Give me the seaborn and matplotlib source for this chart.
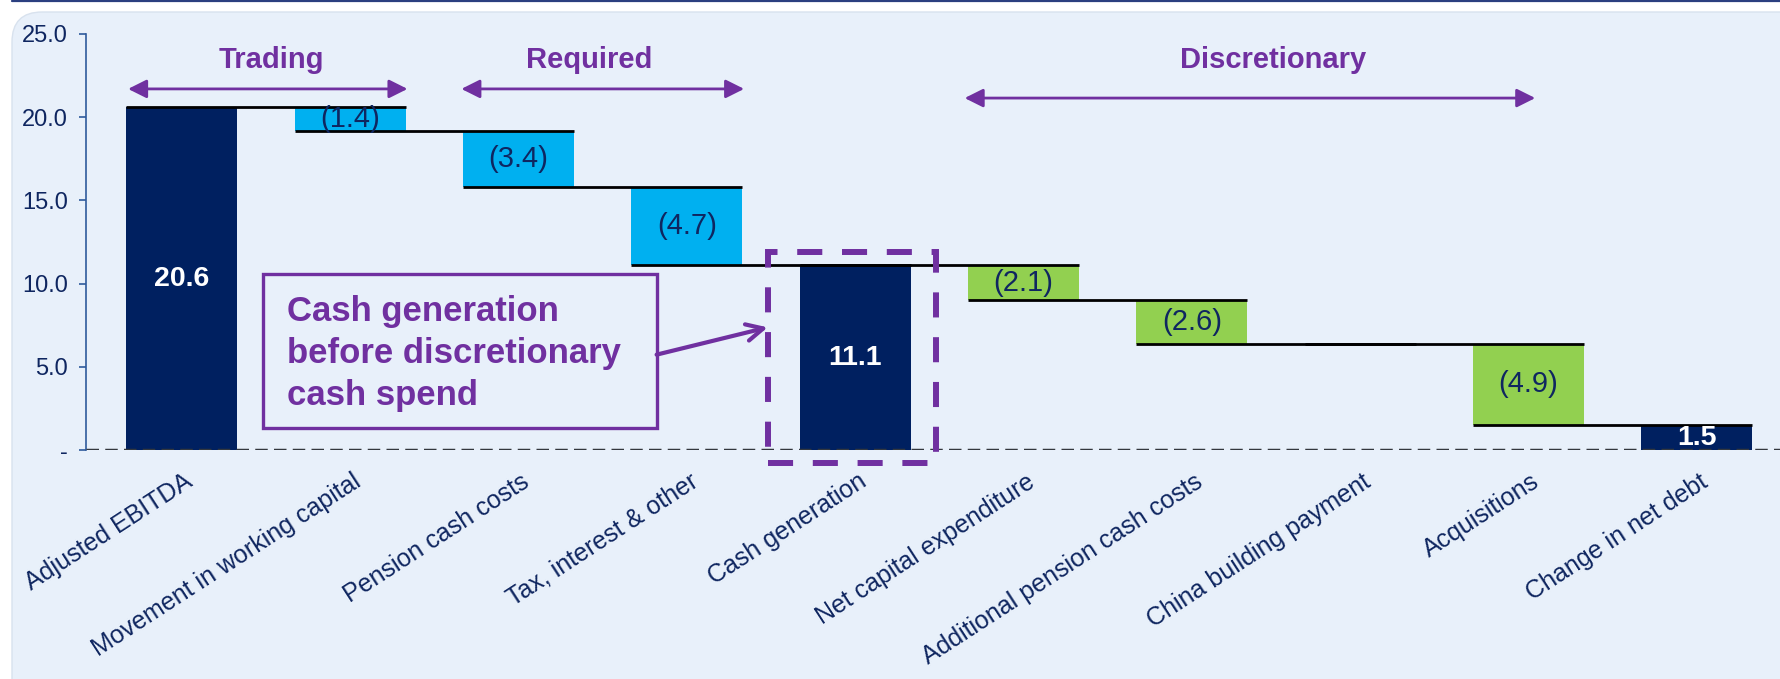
import matplotlib
matplotlib.use("Agg")
import matplotlib.pyplot as plt
import seaborn as sns
import numpy as np
import pandas as pd
from matplotlib.patches import FancyBboxPatch, Rectangle
from matplotlib.lines import Line2D
from matplotlib.transforms import ScaledTranslation

# ---------------- data ----------------
categories = ["Adjusted EBITDA", "Movement in working capital", "Pension cash costs",
              "Tax, interest & other", "Cash generation", "Net capital expenditure",
              "Additional pension cash costs", "China building payment", "Acquisitions",
              "Change in net debt"]
steps = [20.6, -1.4, -3.4, -4.7, 11.1, -2.1, -2.6, 0.0, -4.9, 1.5]
kinds = ["total", "trading", "required", "required", "total",
         "discretionary", "discretionary", "discretionary", "discretionary", "total"]
yticks = [0, 5, 10, 15, 20, 25]
group_labels = ["Trading", "Required", "Discretionary"]

# ---------------- style ----------------
sns.set_theme(style="white")
plt.rcParams["font.family"] = ["Liberation Sans", "DejaVu Sans"]

NAVY = "#002060"
LBLUE = "#00B0F0"
GREEN = "#92D050"
PURPLE = "#7030A0"
TXT = "#0F2660"
PANEL = "#E8F0FA"
kind_color = {"total": NAVY, "trading": LBLUE, "required": LBLUE, "discretionary": GREEN}

# waterfall geometry derived from the data
bottoms, heights, ends = [], [], []
level = 0.0
for v, k in zip(steps, kinds):
    if k == "total":
        bottoms.append(0.0); heights.append(v); level = v
    else:
        bottoms.append(level + v); heights.append(-v); level = level + v
    ends.append(level)

df = pd.DataFrame({"cat": categories, "height": heights, "bottom": bottoms})

W, H = 1781, 679
fig = plt.figure(figsize=(W / 100, H / 100), dpi=100, facecolor="white")

# background panel
panel = FancyBboxPatch((0.12, -0.5), 18.5, 6.79 - 0.12 + 0.5,
                       boxstyle="round,pad=0,rounding_size=0.3",
                       transform=fig.dpi_scale_trans, facecolor=PANEL,
                       edgecolor="#D8E2EE", lw=1, zorder=-10)
fig.patches.append(panel)
fig.lines.append(Line2D([0.007, 1], [0.998, 0.998], transform=fig.transFigure,
                        color="#2B3F80", lw=1.6, zorder=-5))

ax = fig.add_axes([86 / W, 1 - 450 / H, 1695 / W, 416 / H])
ax.set_facecolor("none")
ax.set_zorder(1)

bw = 0.66
sns.barplot(data=df, x="cat", y="height", bottom=df["bottom"].values, order=categories,
            color=NAVY, width=bw, saturation=1, ax=ax, zorder=2)
for p, k in zip(ax.patches, kinds):
    p.set_facecolor(kind_color[k])
    p.set_edgecolor("none")

# connector lines
for i in range(len(categories) - 1):
    ax.hlines(ends[i], i - bw / 2, i + 1 + bw / 2, color="black", lw=2, zorder=3)

# zero line
ax.axhline(0, color="#33373D", lw=2.5, ls=(0, (3.6, 1.8)), zorder=4)

# value labels
for i, (v, k, b, h) in enumerate(zip(steps, kinds, bottoms, heights)):
    if v == 0:
        continue
    if k == "total":
        ax.text(i, b + h / 2, f"{v:.1f}", ha="center", va="center", color="white",
                fontsize=20.5, fontweight="bold", zorder=5)
    else:
        ax.text(i, b + h / 2, f"({abs(v):.1f})", ha="center", va="center", color=TXT,
                fontsize=21, zorder=5)

ax.set_xlim(-0.57, 9.5)
ax.set_ylim(0, 25)
ax.set_yticks(yticks)
ax.set_yticklabels(["-" if t == 0 else f"{t:.1f}" for t in yticks])
ax.set_xlabel("")
ax.set_ylabel("")

for s in ["top", "right", "bottom"]:
    ax.spines[s].set_visible(False)
ax.spines["left"].set_color("#2E5A9C")
ax.spines["left"].set_linewidth(1.2)
ax.tick_params(axis="y", direction="out", length=5, width=1.2, color="#2E5A9C",
               labelsize=17, labelcolor=TXT, pad=8, left=True)
ax.tick_params(axis="x", length=0, labelsize=18, labelcolor=TXT, pad=14)
ax.set_xticks(range(len(categories)))
ax.set_xticklabels(categories, rotation=33, ha="right", va="top",
                   rotation_mode="anchor")
off = ScaledTranslation(2 / 100, 0, fig.dpi_scale_trans)
for lbl in ax.get_xticklabels():
    lbl.set_transform(lbl.get_transform() + off)

# group headers and arrows
headers = [(0.53, 21.7, -0.32, 1.34), (2.42, 21.7, 1.66, 3.34), (6.48, 21.15, 4.65, 8.04)]
for lab, (tx, ay, x0, x1) in zip(group_labels, headers):
    ax.text(tx, 23.45, lab, ha="center", va="center", color=PURPLE, fontsize=21,
            fontweight="bold", zorder=6)
    ax.annotate("", xy=(x1, ay), xytext=(x0, ay),
                arrowprops=dict(arrowstyle="<|-|>", color=PURPLE, lw=2,
                                mutation_scale=28, shrinkA=0, shrinkB=0), zorder=6)

# callout box
ax.add_patch(Rectangle((0.48, 1.32), 2.34, 9.23, facecolor="none", edgecolor=PURPLE,
                       lw=2.4, zorder=6, clip_on=False))
ax.text(0.625, 9.3, "Cash generation\nbefore discretionary\ncash spend", ha="left",
        va="top", color=PURPLE, fontsize=25, fontweight="bold", linespacing=1.35,
        zorder=6)
ax.annotate("", xy=(3.48, 7.37), xytext=(2.82, 5.73),
            arrowprops=dict(arrowstyle="->", color=PURPLE, lw=3, mutation_scale=30,
                            shrinkA=0, shrinkB=0), zorder=6)

# dashed highlight around cash generation
hl = Rectangle((3.48, -0.8), 1.0, 12.7, facecolor="none", edgecolor=PURPLE, lw=4.3,
               ls=(0, (4.2, 3.3)), zorder=6, clip_on=False)
hl.set_capstyle("butt")
ax.add_patch(hl)

fig.savefig("out.png", dpi=100, facecolor="white")
